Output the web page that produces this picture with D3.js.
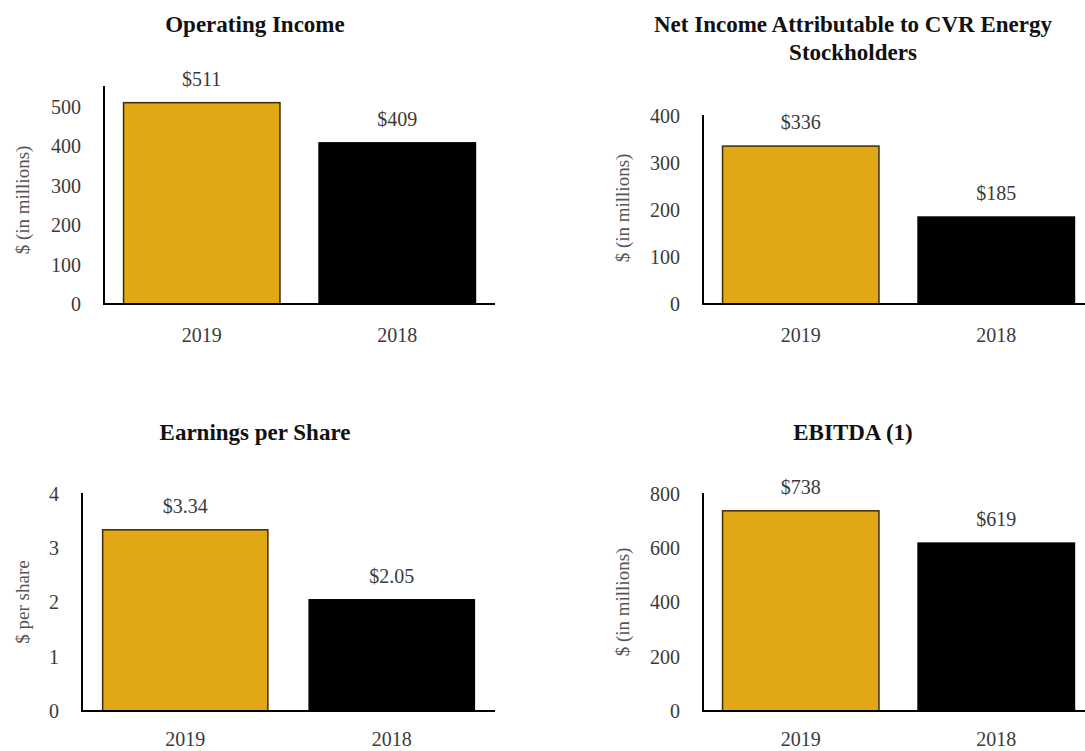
<!DOCTYPE html>
<html>
<head>
<meta charset="utf-8">
<script src="https://cdn.jsdelivr.net/npm/d3@7"></script>
<style>
  html, body { margin: 0; padding: 0; background: #fff; }
  svg { display: block; font-family: "Liberation Serif", "Times New Roman", serif; }
</style>
</head>
<body>
<svg id="chart" width="1085" height="751"></svg>
<script>
// ---- Data ----
const categories = ["2019", "2018"];
const operatingIncome = [511, 409];
const netIncome = [336, 185];
const earningsPerShare = [3.34, 2.05];
const ebitda = [738, 619];

const operatingIncomeTicks = [0, 100, 200, 300, 400, 500];
const netIncomeTicks = [0, 100, 200, 300, 400];
const epsTicks = [0, 1, 2, 3, 4];
const ebitdaTicks = [0, 200, 400, 600, 800];

const titles = [
  ["Operating Income"],
  ["Net Income Attributable to CVR Energy", "Stockholders"],
  ["Earnings per Share"],
  ["EBITDA (1)"]
];
const yAxisTitles = ["$ (in millions)", "$ (in millions)", "$ per share", "$ (in millions)"];
const valueDecimals = [0, 0, 2, 0];
const barColors = ["#E1A714", "#000000"];

// ---- Layout (pixels) ----
const layout = [
  { values: operatingIncome, ticks: operatingIncomeTicks, left: 104, right: 495, y0: 304, yTop: 107, axisTop: 86,  titleX: 255, titleY: 32,  yTitleX: 22,  yTitleY: 200, xPad: 24 },
  { values: netIncome,       ticks: netIncomeTicks,       left: 703, right: 1094, y0: 304, yTop: 116, axisTop: 115, titleX: 853, titleY: 32,  yTitleX: 622, yTitleY: 208, xPad: 24 },
  { values: earningsPerShare,ticks: epsTicks,             left: 82,  right: 495, y0: 711, yTop: 494, axisTop: 493, titleX: 255, titleY: 440, yTitleX: 22,  yTitleY: 602, xPad: 21 },
  { values: ebitda,          ticks: ebitdaTicks,          left: 703, right: 1094, y0: 711, yTop: 494, axisTop: 493, titleX: 853, titleY: 440, yTitleX: 622, yTitleY: 602, xPad: 21 }
];

const svg = d3.select("#chart");

layout.forEach((p, i) => {
  const g = svg.append("g");
  const x = d3.scaleBand().domain(categories).range([p.left, p.right])
    .paddingInner(0.2).paddingOuter(0.1);
  const y = d3.scaleLinear().domain([0, d3.max(p.ticks)]).range([p.y0, p.yTop]);

  // Title
  const t = g.append("text")
    .attr("x", p.titleX).attr("y", p.titleY)
    .attr("text-anchor", "middle")
    .attr("font-weight", "bold")
    .attr("font-size", 23)
    .attr("fill", "#111");
  titles[i].forEach((line, k) => {
    t.append("tspan").attr("x", p.titleX).attr("dy", k === 0 ? 0 : 28).text(line);
  });

  // Bars
  g.selectAll("rect.bar").data(p.values).enter().append("rect")
    .attr("class", "bar")
    .attr("x", (d, j) => x(categories[j]))
    .attr("width", x.bandwidth())
    .attr("y", d => y(d))
    .attr("height", d => p.y0 - y(d))
    .attr("fill", (d, j) => barColors[j])
    .attr("stroke", (d, j) => j === 0 ? "#3b2c05" : "#000")
    .attr("stroke-width", 1.5);

  // Value labels
  g.selectAll("text.val").data(p.values).enter().append("text")
    .attr("class", "val")
    .attr("x", (d, j) => x(categories[j]) + x.bandwidth() / 2)
    .attr("y", d => y(d) - 17)
    .attr("text-anchor", "middle")
    .attr("font-size", 20)
    .attr("fill", "#3a3a3a")
    .text(d => "$" + d.toFixed(valueDecimals[i]));

  // Y axis tick labels
  const yAxis = d3.axisLeft(y).tickValues(p.ticks).tickSize(0).tickPadding(23)
    .tickFormat(d3.format("d"));
  const ya = g.append("g").attr("transform", `translate(${p.left},0)`).call(yAxis);
  ya.select(".domain").remove();
  ya.selectAll("text")
    .attr("font-family", "Liberation Serif, Times New Roman, serif")
    .attr("font-size", 20)
    .attr("fill", "#3a3a3a");

  // X axis labels
  const xAxis = d3.axisBottom(x).tickSize(0).tickPadding(p.xPad);
  const xa = g.append("g").attr("transform", `translate(0,${p.y0})`).call(xAxis);
  xa.select(".domain").remove();
  xa.selectAll("text")
    .attr("font-family", "Liberation Serif, Times New Roman, serif")
    .attr("font-size", 20)
    .attr("fill", "#3a3a3a");

  // Axis lines
  g.append("line")
    .attr("x1", p.left).attr("x2", p.left)
    .attr("y1", p.axisTop).attr("y2", p.y0 + 1)
    .attr("stroke", "#000").attr("stroke-width", 2);
  g.append("line")
    .attr("x1", p.left - 1).attr("x2", p.right)
    .attr("y1", p.y0).attr("y2", p.y0)
    .attr("stroke", "#000").attr("stroke-width", 2);

  // Y axis title
  g.append("text")
    .attr("transform", `translate(${p.yTitleX},${p.yTitleY}) rotate(-90)`)
    .attr("text-anchor", "middle")
    .attr("dominant-baseline", "central")
    .attr("font-size", 19)
    .attr("fill", "#555")
    .text(yAxisTitles[i]);
});
</script>
</body>
</html>
